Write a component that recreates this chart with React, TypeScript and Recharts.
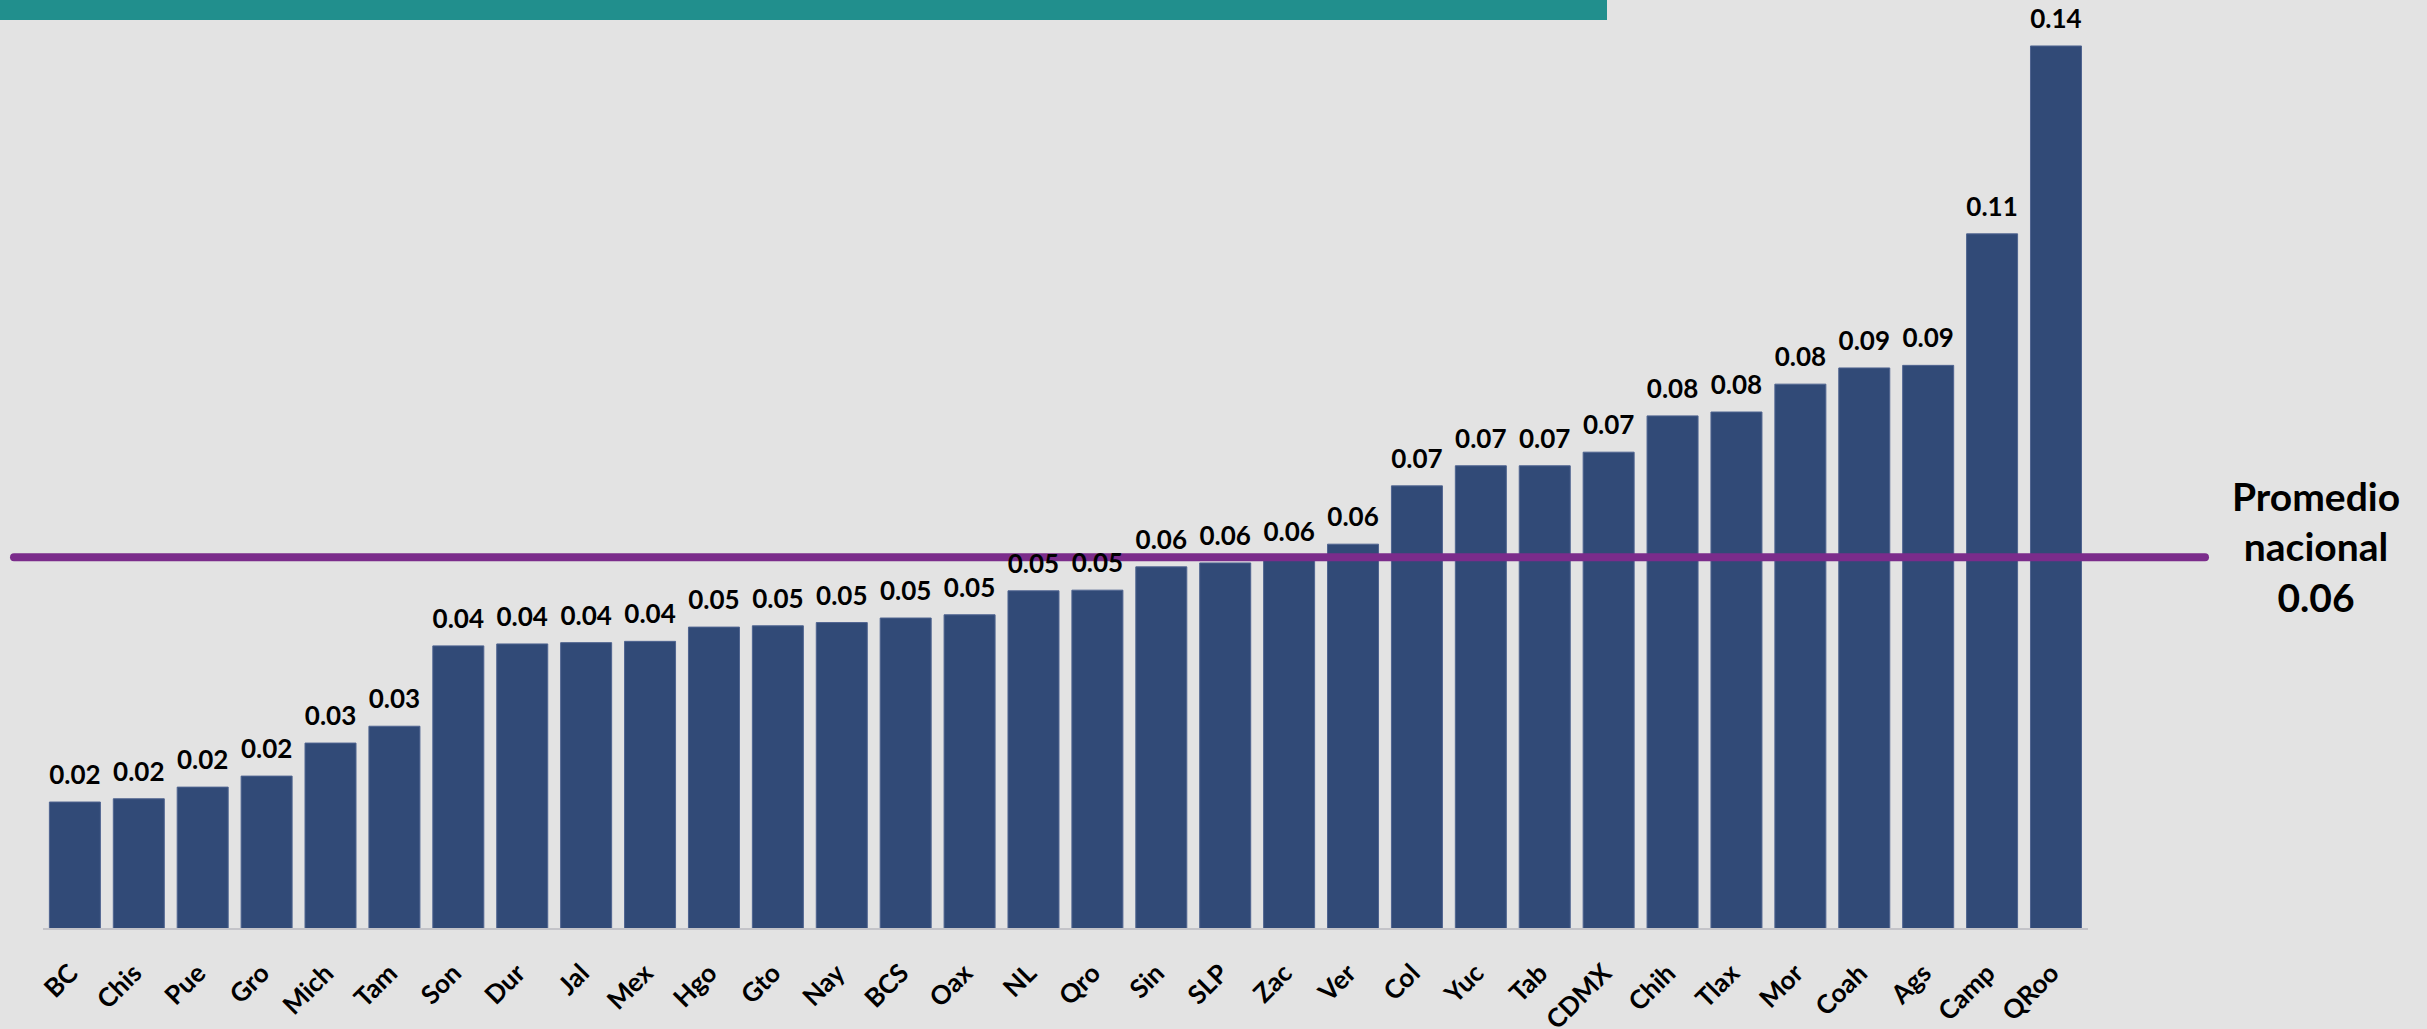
import React from 'react';
import { BarChart, Bar, XAxis, YAxis, ReferenceLine, LabelList } from 'recharts';

const states = ['BC', 'Chis', 'Pue', 'Gro', 'Mich', 'Tam', 'Son', 'Dur', 'Jal', 'Mex', 'Hgo', 'Gto', 'Nay', 'BCS', 'Oax', 'NL', 'Qro', 'Sin', 'SLP', 'Zac', 'Ver', 'Col', 'Yuc', 'Tab', 'CDMX', 'Chih', 'Tlax', 'Mor', 'Coah', 'Ags', 'Camp', 'QRoo'];
const values = [0.0196, 0.0201, 0.0219, 0.0236, 0.0287, 0.0313, 0.0437, 0.044, 0.0442, 0.0444, 0.0466, 0.0468, 0.0473, 0.048, 0.0485, 0.0522, 0.0523, 0.0559, 0.0565, 0.0571, 0.0594, 0.0684, 0.0715, 0.0715, 0.0736, 0.0792, 0.0798, 0.0841, 0.0866, 0.087, 0.1073, 0.1363];
const nationalAverage = 0.0574;
const averageLabelLines = ['Promedio', 'nacional'];
const yDomain = [0, 0.14];

const data = states.map((s, i) => ({ state: s, value: values[i] }));

const FONT = 'Lato, "Open Sans", sans-serif';

const StateTick = (props: any) => {
  const { x, y, payload } = props;
  return (
    <g transform={`translate(${x + 4.5},${y + 38})`}>
      <text textAnchor="end" transform="rotate(-45)" fontFamily={FONT} fontWeight={700} fontSize={26} fill="#000">
        {payload.value}
      </text>
    </g>
  );
};

const AvgLine = (props: any) => {
  const { x1, y1, x2, y2 } = props;
  return <line x1={x1 - 29} y1={y1} x2={x2 + 117} y2={y2} stroke="#7B2C8B" strokeWidth={8} strokeLinecap="round" />;
};

const AvgLabel = (props: any) => {
  const { viewBox } = props;
  const cx = viewBox.x + viewBox.width + 228;
  const y = viewBox.y;
  return (
    <text textAnchor="middle" fontFamily={FONT} fontWeight={700} fontSize={39} fill="#000">
      <tspan x={cx} y={y - 46}>{averageLabelLines[0]}</tspan>
      <tspan x={cx} y={y + 4}>{averageLabelLines[1]}</tspan>
      <tspan x={cx} y={y + 55}>{nationalAverage.toFixed(2)}</tspan>
    </text>
  );
};

export default function App() {
  return (
    <div style={{ position: 'absolute', left: 0, top: 0, width: 2427, height: 1029, background: '#E3E3E3', overflow: 'hidden' }}>
      <div style={{ position: 'absolute', left: 0, top: 0, width: 1607, height: 20, background: '#218F8D' }} />
      <BarChart width={2427} height={1029} data={data} margin={{ top: 22, right: 339, bottom: 0, left: 43 }} barCategoryGap="10%">
        <XAxis
          dataKey="state"
          interval={0}
          height={100}
          tickLine={false}
          axisLine={{ stroke: '#C3C3C8', strokeWidth: 2 }}
          tick={<StateTick />}
        />
        <YAxis hide domain={yDomain} />
        <Bar dataKey="value" fill="#314A77" stroke="#4F6490" strokeWidth={1} isAnimationActive={false}>
          <LabelList
            dataKey="value"
            position="top"
            offset={18}
            formatter={(v: any) => Number(v).toFixed(2)}
            style={{ fontFamily: FONT, fontWeight: 700, fontSize: 26, fill: '#000' }}
          />
        </Bar>
        <ReferenceLine y={nationalAverage} shape={<AvgLine />} label={<AvgLabel />} ifOverflow="visible" />
      </BarChart>
    </div>
  );
}
